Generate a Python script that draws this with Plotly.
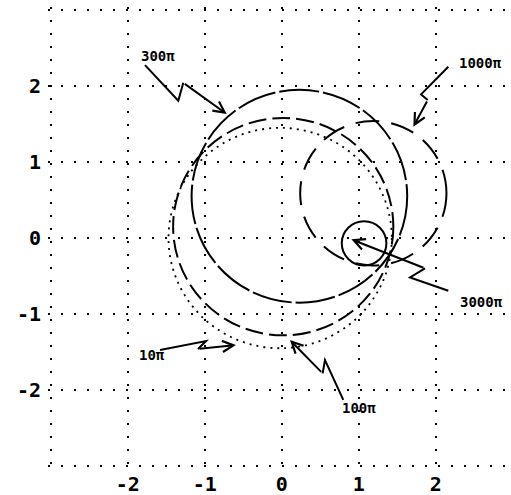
import plotly.graph_objects as go

# ---- data ----
freq_labels = ["10π", "100π", "300π", "1000π", "3000π"]
center_re = [-0.02, 0.02, 0.23, 1.19, 1.07]
center_im = [0.0, 0.15, 0.55, 0.59, -0.07]
radius = [1.45, 1.43, 1.40, 0.95, 0.29]
tick_vals = [-3, -2, -1, 0, 1, 2, 3]
tick_text = ["", "-2", "-1", "0", "1", "2", ""]

# label text positions (data coords)
label_x = [-1.69, 1.00, -1.61, 2.58, 2.60]
label_y = [-1.54, -2.23, 2.40, 2.30, -0.84]
# zig-zag leader paths, last point is the arrow tip
leader_x = [
    [-1.58, -0.983, -1.087, -0.594],
    [0.80, 0.562, 0.532, 0.108],
    [-1.775, -1.343, -1.278, -0.714],
    [2.164, 1.81, 1.897, 1.71],
    [2.164, 1.666, 1.861, 0.905],
]
leader_y = [
    [-1.474, -1.355, -1.46, -1.408],
    [-2.13, -1.605, -1.78, -1.342],
    [2.276, 1.807, 2.043, 1.632],
    [2.254, 1.89, 1.816, 1.466],
    [-0.693, -0.518, -0.399, -0.017],
]

# ---- styles ----
dashes = ["2px,5px", "18px,6px", "40px,4px", "24px,12px", "solid"]
widths = [1.8, 2, 2, 2, 2]

fig = go.Figure()
# invisible trace so axes exist
fig.add_trace(go.Scatter(x=center_re, y=center_im, mode="markers",
                         marker=dict(opacity=0), hoverinfo="skip", showlegend=False))

for cx, cy, r, d, w in zip(center_re, center_im, radius, dashes, widths):
    fig.add_shape(type="circle", xref="x", yref="y",
                  x0=cx - r, x1=cx + r, y0=cy - r, y1=cy + r,
                  line=dict(color="black", width=w, dash=d))

font_lbl = dict(family="DejaVu Sans Mono", size=14, color="black", weight="bold")
for lab, tx, ty, lx, ly in zip(freq_labels, label_x, label_y, leader_x, leader_y):
    fig.add_annotation(x=tx, y=ty, xref="x", yref="y", text=lab,
                       showarrow=False, font=font_lbl)
    path = "M %f %f" % (lx[0], ly[0]) + "".join(
        " L %f %f" % (a, b) for a, b in zip(lx[1:-1], ly[1:-1]))
    fig.add_shape(type="path", xref="x", yref="y", path=path,
                  line=dict(color="black", width=2))
    fig.add_annotation(x=lx[-1], y=ly[-1], ax=lx[-2], ay=ly[-2],
                       xref="x", yref="y", axref="x", ayref="y", text="",
                       showarrow=True, arrowhead=5, arrowsize=1.1,
                       arrowwidth=2, arrowcolor="black", standoff=0)

axis_common = dict(
    tickvals=tick_vals, ticktext=tick_text,
    showgrid=True, gridcolor="black", gridwidth=2, griddash="2px,11px",
    zeroline=False, showline=False, ticks="", automargin=False,
    tickfont=dict(family="DejaVu Sans Mono", size=20, color="black", weight="bold"),
)
fig.update_xaxes(range=[-3.035, 2.978], ticklabelstandoff=0, **axis_common)
fig.update_yaxes(range=[-3.052, 3.04], ticklabelstandoff=6, **axis_common)

fig.update_layout(
    width=511, height=495,
    margin=dict(l=48, r=0, t=7, b=25),
    paper_bgcolor="white", plot_bgcolor="white",
    showlegend=False,
)

fig.write_html("out.html", config={"displayModeBar": False},
               post_script="document.body.style.margin='0';document.body.style.overflow='hidden';")
